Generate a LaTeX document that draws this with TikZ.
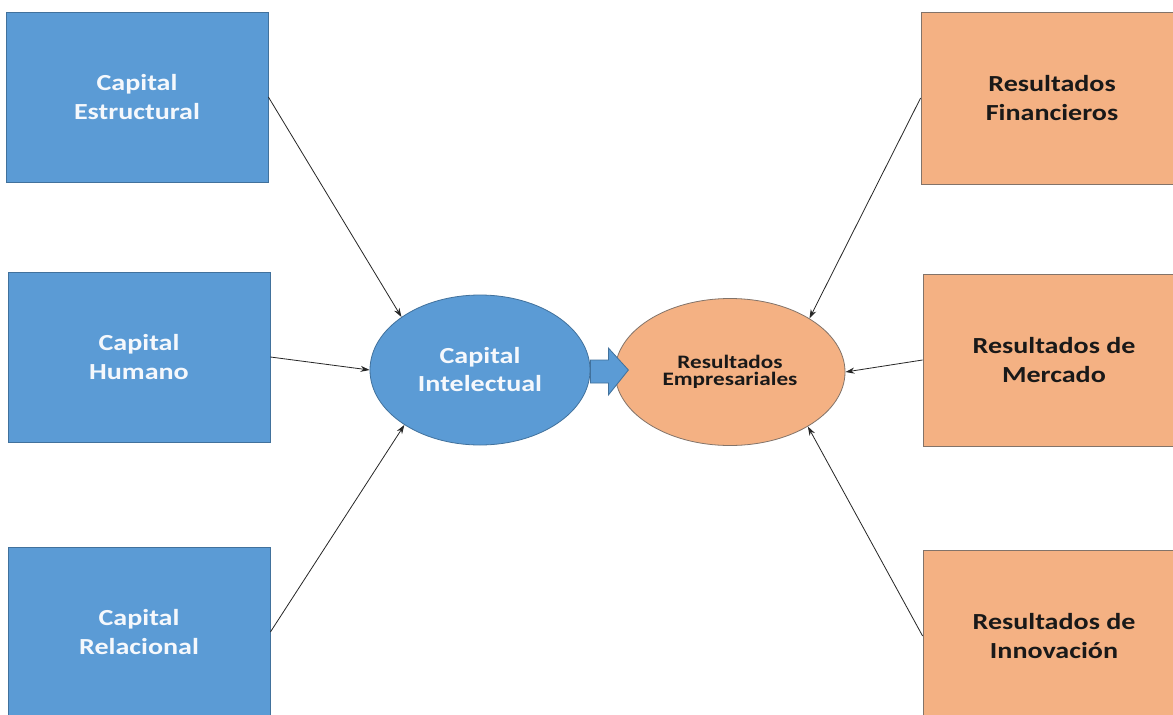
\documentclass[tikz,border=0pt]{standalone}
\usepackage{fontspec}
\setmainfont{Carlito}[FakeStretch=1.22]
\usetikzlibrary{shapes.geometric,arrows.meta,calc}
\definecolor{bluefill}{RGB}{91,155,213}
\definecolor{blueline}{RGB}{65,113,156}
\definecolor{orfill}{RGB}{244,177,131}
\definecolor{orline}{RGB}{130,115,105}
\definecolor{bluetext}{RGB}{245,248,252}
\tikzset{
  bluebox/.style={draw=blueline, fill=bluefill, line width=0.8pt, minimum width=262pt, minimum height=170pt, inner sep=0pt, align=center, text=bluetext, font=\fontsize{23}{29}\selectfont\bfseries},
  orbox/.style={draw=orline, fill=orfill, line width=0.8pt, minimum width=262pt, minimum height=172pt, inner sep=0pt, align=center, text=black!90, font=\fontsize{23}{29}\selectfont\bfseries},
  conn/.style={draw=black!85, line width=0.8pt, -{Stealth[length=9pt,width=6pt]}},
}
\begin{document}
\begin{tikzpicture}[x=1pt,y=-1pt]
\useasboundingbox (0,0) rectangle (1173,715);
\fill[white] (0,0) rectangle (1173,715);
% left boxes
\node[bluebox] (ce) at (137,97) {Capital\\Estructural};
\node[bluebox] (ch) at (139,357) {Capital\\Humano};
\node[bluebox] (cr) at (139,632) {Capital\\Relacional};
% right boxes
\node[orbox] (rf) at (1052,98) {Resultados\\Financieros};
\node[orbox] (rm) at (1054,360) {Resultados de\\Mercado};
\node[orbox] (ri) at (1054,636) {Resultados de\\Innovación};
% ellipses
\node[ellipse, draw=blueline, fill=bluefill, line width=0.8pt, minimum width=220pt, minimum height=150pt, inner sep=0pt, align=center, text=bluetext, font=\fontsize{23}{28}\selectfont\bfseries] (ci) at (480,370) {Capital\\Intelectual};
\node[ellipse, draw=orline, fill=orfill, line width=0.8pt, minimum width=230pt, minimum height=147pt, inner sep=0pt, align=center, text=black!90, font=\fontsize{19}{17.5}\selectfont\bfseries] (re) at (730,372) {Resultados\\Empresariales};
% block arrow
\draw[blueline, fill=bluefill, line width=0.8pt]
  ($(ci.east)+(0,-10)$) -- ++(18,0) -- ++(0,-12) -- ($(ci.east)+(38,0)$)
  -- ($(ci.east)+(18,25)$) -- ++(0,-12) -- ($(ci.east)+(0,13)$) -- cycle;
% connectors
\draw[conn] (ce.east) -- (ci.146);
\draw[conn] (ch.east) -- (ci.west);
\draw[conn] (cr.east) -- (ci.216);
\draw[conn] (rf.west) -- (re.34);
\draw[conn] (rm.west) -- (re.east);
\draw[conn] (ri.west) -- (re.-35);
\end{tikzpicture}
\end{document}
